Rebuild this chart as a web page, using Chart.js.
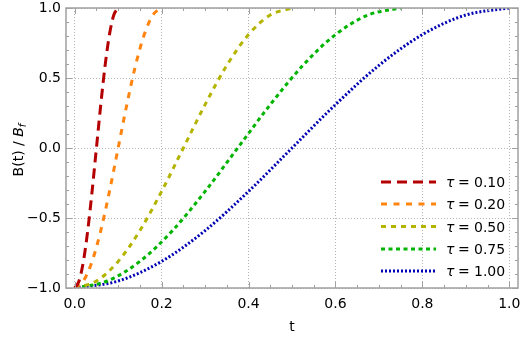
<!DOCTYPE html>
<html>
<head>
<meta charset="utf-8">
<script src="https://cdn.jsdelivr.net/npm/chart.js@4"></script>
<style>
  html, body { margin: 0; padding: 0; background: #fff; }
  #wrap { width: 523px; height: 340px; }
</style>
</head>
<body>
<div id="wrap"><canvas id="chart" width="523" height="340"></canvas></div>
<script>
// values: B(t)/Bf rises from -1 to 1 over [0, tau]
const shape = [-1, -0.95, -0.81, -0.59, -0.31, 0, 0.31, 0.59, 0.81, 0.95, 1];
const t010 = [0, 0.01, 0.02, 0.03, 0.04, 0.05, 0.06, 0.07, 0.08, 0.09, 0.10];
const t020 = [0, 0.02, 0.04, 0.06, 0.08, 0.10, 0.12, 0.14, 0.16, 0.18, 0.20];
const t050 = [0, 0.05, 0.10, 0.15, 0.20, 0.25, 0.30, 0.35, 0.40, 0.45, 0.50];
const t075 = [0, 0.075, 0.15, 0.225, 0.30, 0.375, 0.45, 0.525, 0.60, 0.675, 0.75];
const t100 = [0, 0.1, 0.2, 0.3, 0.4, 0.5, 0.6, 0.7, 0.8, 0.9, 1.0];
const tauLabels = ['0.10', '0.20', '0.50', '0.75', '1.00'];
const xTicks = [0, 0.2, 0.4, 0.6, 0.8, 1.0];
const yTicks = [-1, -0.5, 0, 0.5, 1];

const styles = [
  { color: '#b40000', dash: [10, 6], width: 3 },
  { color: '#ff8410', dash: [6, 6.5], width: 3 },
  { color: '#b4b400', dash: [5, 5], width: 3 },
  { color: '#00b400', dash: [4, 3.5], width: 3 },
  { color: '#0000b4', dash: [2, 2], width: 3 }
];

const series = [t010, t020, t050, t075, t100];

const datasets = series.map((ts, i) => ({
  label: tauLabels[i],
  data: ts.map((t, k) => ({ x: t, y: shape[k] })),
  borderColor: styles[i].color,
  borderDash: styles[i].dash,
  borderWidth: styles[i].width,
  pointRadius: 0,
  fill: false,
  cubicInterpolationMode: 'monotone'
}));

const frameColor = '#a0a0a0';
const font = '"DejaVu Sans", sans-serif';

const decor = {
  id: 'decor',
  afterDatasetsDraw(chart) {
    const ctx = chart.ctx;
    const a = chart.chartArea;
    const xs = chart.scales.x, ys = chart.scales.y;
    ctx.save();
    // frame
    ctx.strokeStyle = frameColor;
    ctx.lineWidth = 1.5;
    ctx.strokeRect(a.left, a.top, a.right - a.left, a.bottom - a.top);
    // inward ticks
    ctx.lineWidth = 1;
    ctx.beginPath();
    for (let i = 0; i <= 20; i++) {
      const v = i * 0.05;
      const len = (i % 4 === 0) ? 6 : 3;
      const px = Math.round(xs.getPixelForValue(v)) + 0.5;
      ctx.moveTo(px, a.bottom); ctx.lineTo(px, a.bottom - len);
      ctx.moveTo(px, a.top); ctx.lineTo(px, a.top + len);
    }
    for (let i = 0; i <= 20; i++) {
      const v = -1 + i * 0.1;
      const len = (i % 5 === 0) ? 6 : 3;
      const py = Math.round(ys.getPixelForValue(v)) + 0.5;
      ctx.moveTo(a.left, py); ctx.lineTo(a.left + len, py);
      ctx.moveTo(a.right, py); ctx.lineTo(a.right - len, py);
    }
    ctx.stroke();

    // legend
    const lx0 = 381, lx1 = 436, tx = 446;
    const rows = [182, 204, 226.5, 249, 271];
    chart.data.datasets.forEach((ds, i) => {
      const y = rows[i];
      ctx.strokeStyle = ds.borderColor;
      ctx.lineWidth = ds.borderWidth;
      ctx.setLineDash(ds.borderDash);
      ctx.beginPath();
      ctx.moveTo(lx0, y); ctx.lineTo(lx1, y);
      ctx.stroke();
      ctx.setLineDash([]);
      ctx.fillStyle = '#000';
      ctx.textBaseline = 'middle';
      ctx.textAlign = 'left';
      ctx.font = 'italic 14px ' + font;
      ctx.fillText('\u03c4', tx, y + 1.5);
      ctx.font = '14px ' + font;
      ctx.fillText('=', tx + 12, y + 1.5);
      ctx.fillText(ds.label, tx + 28, y + 1.5);
    });

    // y title: B(t) / B_f
    ctx.translate(23, 150);
    ctx.rotate(-Math.PI / 2);
    ctx.textBaseline = 'alphabetic';
    ctx.fillStyle = '#000';
    const p1 = 'B(t) / ';
    ctx.font = '14px ' + font;
    const w1 = ctx.measureText(p1).width;
    ctx.font = 'italic 14px ' + font;
    const w2 = ctx.measureText('B').width;
    ctx.font = 'italic 10px ' + font;
    const w3 = ctx.measureText('f').width;
    let x = -(w1 + w2 + w3) / 2;
    ctx.font = '14px ' + font;
    ctx.fillText(p1, x, 0);
    x += w1;
    ctx.font = 'italic 14px ' + font;
    ctx.fillText('B', x, 0);
    x += w2;
    ctx.font = 'italic 10px ' + font;
    ctx.fillText('f', x, 3);
    ctx.restore();
  }
};

new Chart(document.getElementById('chart'), {
  type: 'line',
  data: { datasets },
  options: {
    responsive: false,
    animation: false,
    layout: { padding: { top: 8, right: 5, left: 0, bottom: 0 } },
    plugins: { legend: { display: false }, tooltip: { enabled: false } },
    scales: {
      x: {
        type: 'linear',
        min: -0.02,
        max: 1.02,
        afterBuildTicks: s => { s.ticks = xTicks.map(v => ({ value: v })); },
        afterFit: s => { s.height = 52; s.paddingLeft = 0; s.paddingRight = 0; },
        grid: { color: '#b4b4b4', lineWidth: 1, drawTicks: false },
        border: { display: false, dash: [1, 2] },
        ticks: {
          padding: 8,
          color: '#000',
          font: { family: font, size: 14 },
          callback: v => v.toFixed(1)
        },
        title: {
          display: true,
          text: 't',
          color: '#000',
          font: { family: font, size: 14 },
          padding: { top: 6 }
        }
      },
      y: {
        type: 'linear',
        min: -1,
        max: 1,
        afterBuildTicks: s => { s.ticks = yTicks.map(v => ({ value: v })); },
        afterFit: s => { s.width = 66; s.paddingTop = 0; s.paddingBottom = 0; },
        grid: { color: '#b4b4b4', lineWidth: 1, drawTicks: false },
        border: { display: false, dash: [1, 2] },
        ticks: {
          padding: 5,
          color: '#000',
          font: { family: font, size: 14 },
          callback: v => v.toFixed(1).replace('-', '\u2212')
        }
      }
    }
  },
  plugins: [decor]
});
</script>
</body>
</html>
